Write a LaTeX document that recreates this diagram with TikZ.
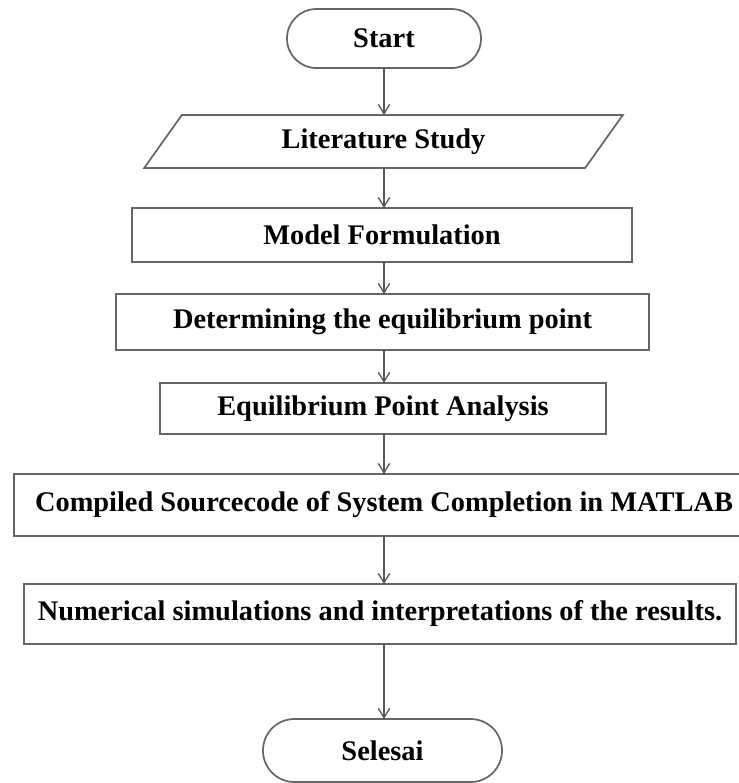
\documentclass[tikz,border=0pt]{standalone}
\usepackage{fontspec}
\setmainfont{Liberation Serif}
\usetikzlibrary{arrows.meta,shapes.geometric}
\definecolor{edgegray}{rgb}{0.40,0.40,0.40}
\definecolor{arrowgray}{rgb}{0.35,0.35,0.35}
\begin{document}
\begin{tikzpicture}[x=0.75pt,y=-0.75pt,
  txt/.style={font=\fontsize{21.3}{24}\selectfont\bfseries, text=black},
  box/.style={txt, draw=edgegray, line width=1.3pt, rectangle, inner sep=0pt, outer sep=0pt},
  term/.style={box, rounded corners=#1},
  para/.style={txt, draw=edgegray, line width=1.3pt, trapezium, trapezium stretches=true,
    trapezium left angle=53.6, trapezium right angle=126.4, inner sep=0pt, outer sep=0pt},
  arr/.style={draw=arrowgray, line width=1pt, -{Straight Barb[length=7pt,width=8.5pt]}}
]
\useasboundingbox (0,0) rectangle (739,783);
\fill[white] (0,0) rectangle (739,783);
\coordinate (axis) at (384,0);

\node[term=22pt, minimum width=194*0.75pt, minimum height=59*0.75pt] (start) at (384,38.5) {Start};
\node[para, minimum width=479*0.75pt, minimum height=53*0.75pt] (lit) at (383.5,141.5) {Literature Study};
\node[box, minimum width=500*0.75pt, minimum height=54*0.75pt] (model) at (382,235) {Model Formulation};
\node[box, minimum width=533*0.75pt, minimum height=56*0.75pt] (det) at (382.5,322) {Determining the equilibrium point};
\node[box, minimum width=446*0.75pt, minimum height=51*0.75pt] (eqa) at (383,408.5) {Equilibrium Point Analysis};
\node[box, minimum width=740*0.75pt, minimum height=62*0.75pt] (comp) at (384,505) {Compiled Sourcecode of System Completion in MATLAB};
\node[box, minimum width=712*0.75pt, minimum height=60*0.75pt] (num) at (380,614) {Numerical simulations and interpretations of the results.};
\node[term=23.5pt, minimum width=239*0.75pt, minimum height=63*0.75pt] (end) at (382.5,750.5) {Selesai};

\draw[arr] (axis |- start.south) -- (axis |- lit.north);
\draw[arr] (axis |- lit.south) -- (axis |- model.north);
\draw[arr] (axis |- model.south) -- (axis |- det.north);
\draw[arr] (axis |- det.south) -- (axis |- eqa.north);
\draw[arr] (axis |- eqa.south) -- (axis |- comp.north);
\draw[arr] (axis |- comp.south) -- (axis |- num.north);
\draw[arr] (axis |- num.south) -- (axis |- end.north);
\end{tikzpicture}
\end{document}
